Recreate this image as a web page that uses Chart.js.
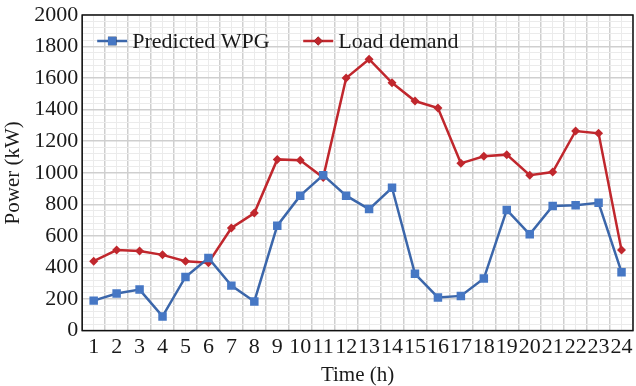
<!DOCTYPE html>
<html>
<head>
<meta charset="utf-8">
<script src="https://cdn.jsdelivr.net/npm/chart.js@4/dist/chart.umd.min.js"></script>
<style>
  html, body { margin: 0; padding: 0; background: #fff; overflow: hidden; }
  #wrap { width: 636px; height: 386px; overflow: hidden; }
</style>
</head>
<body>
<div id="wrap"><canvas id="myChart" width="639" height="386"></canvas></div>
<script>
// hours on the x axis
const hours = [1, 2, 3, 4, 5, 6, 7, 8, 9, 10, 11, 12, 13, 14, 15, 16, 17, 18, 19, 20, 21, 22, 23, 24];

// predicted wind power generation (kW)
const predictedWPG = [190, 235, 260, 90, 340, 460, 285, 185, 665, 855, 985, 855, 770, 905, 360, 210, 220, 330, 765, 610, 790, 795, 810, 370];

// load demand (kW)
const loadDemand = [440, 510, 505, 480, 440, 430, 650, 745, 1085, 1080, 970, 1600, 1720, 1570, 1455, 1410, 1060, 1105, 1115, 985, 1005, 1265, 1250, 510];

const yMin = 0;
const yMax = 2000;
const yMajor = 200;
const yMinor = 40;

const FONT = '"Liberation Serif", "Times New Roman", serif';
const BLUE = '#3b66aa';
const BLUE_PT = '#4677c4';
const RED = '#c0272d';

// black frame round the plot
const framePlugin = {
    id: 'frame',
    afterDraw(chart) {
        const { ctx, chartArea: a } = chart;
        ctx.save();
        ctx.strokeStyle = '#111';
        ctx.lineWidth = 1.5;
        ctx.strokeRect(a.left, a.top, a.right - a.left, a.bottom - a.top);
        ctx.restore();
    }
};

// legend drawn inside the plot, line + marker like the original
const legendPlugin = {
    id: 'inLegend',
    afterDatasetsDraw(chart) {
        const { ctx, chartArea: a } = chart;
        const items = chart.data.datasets.map(d => ({
            text: d.label, color: d.borderColor, fill: d.pointBackgroundColor, style: d.pointStyle, r: d.pointRadius
        }));
        const y = a.top + 26;
        const starts = [a.left + 15, a.left + 221];
        ctx.save();
        ctx.font = '22px ' + FONT;
        ctx.textBaseline = 'middle';
        items.forEach((it, i) => {
            const x = starts[i];
            ctx.strokeStyle = it.color;
            ctx.lineWidth = 2.5;
            ctx.beginPath();
            ctx.moveTo(x, y);
            ctx.lineTo(x + 30, y);
            ctx.stroke();
            Chart.helpers.drawPoint(ctx, { pointStyle: it.style, radius: it.r, borderWidth: 0 }, x + 15, y);
            ctx.fillStyle = it.fill;
            ctx.fill();
            ctx.fillStyle = '#1a1a1a';
            ctx.fillText(it.text, x + 35, y + 1);
        });
        ctx.restore();
    }
};

const data = {
    labels: hours,
    datasets: [{
        label: 'Predicted WPG',
        data: predictedWPG,
        borderColor: BLUE,
        backgroundColor: BLUE_PT,
        pointBackgroundColor: BLUE_PT,
        pointBorderWidth: 0,
        pointStyle: 'rect',
        pointRadius: 6,
        borderWidth: 2.5,
        tension: 0
    }, {
        label: 'Load demand',
        data: loadDemand,
        borderColor: RED,
        backgroundColor: RED,
        pointBackgroundColor: RED,
        pointBorderWidth: 0,
        pointStyle: 'rectRot',
        pointRadius: 4.5,
        borderWidth: 2.5,
        tension: 0
    }]
};

const config = {
    type: 'line',
    data: data,
    plugins: [framePlugin, legendPlugin],
    options: {
        responsive: false,
        animation: false,
        layout: { padding: { top: 15, right: 1, left: 1, bottom: 0 } },
        plugins: {
            legend: { display: false },
            tooltip: { enabled: false }
        },
        scales: {
            x: {
                type: 'category',
                offset: true,
                grid: { offset: true, color: '#cfcfcf', lineWidth: 1.5, drawTicks: false },
                border: { display: false },
                ticks: {
                    color: '#1a1a1a',
                    font: { family: FONT, size: 22 },
                    autoSkip: false,
                    maxRotation: 0,
                    padding: 3
                },
                title: {
                    display: true,
                    text: 'Time (h)',
                    color: '#1a1a1a',
                    font: { family: FONT, size: 21, lineHeight: 1.0 },
                    padding: { top: 2, bottom: 0 }
                }
            },
            x2: {
                type: 'category',
                position: 'top',
                offset: true,
                labels: hours,
                grid: { offset: false, color: '#ebebeb', lineWidth: 1, drawTicks: false },
                border: { display: false },
                ticks: { display: false }
            },
            y: {
                min: yMin,
                max: yMax,
                afterFit: s => { s.paddingTop = 0; },
                grid: {
                    drawTicks: false,
                    color: c => (c.tick.value % yMajor === 0 ? '#cfcfcf' : '#ebebeb'),
                    lineWidth: c => (c.tick.value % yMajor === 0 ? 1.5 : 1)
                },
                border: { display: false },
                ticks: {
                    stepSize: yMinor,
                    autoSkip: false,
                    color: '#1a1a1a',
                    font: { family: FONT, size: 22, lineHeight: 1.0 },
                    padding: 4,
                    callback: v => (v % yMajor === 0 ? v : '')
                },
                title: {
                    display: true,
                    text: 'Power (kW)',
                    color: '#1a1a1a',
                    font: { family: FONT, size: 21 },
                    padding: { top: 0, bottom: 4 }
                }
            }
        }
    }
};

const myChart = new Chart(document.getElementById('myChart'), config);
</script>
</body>
</html>
